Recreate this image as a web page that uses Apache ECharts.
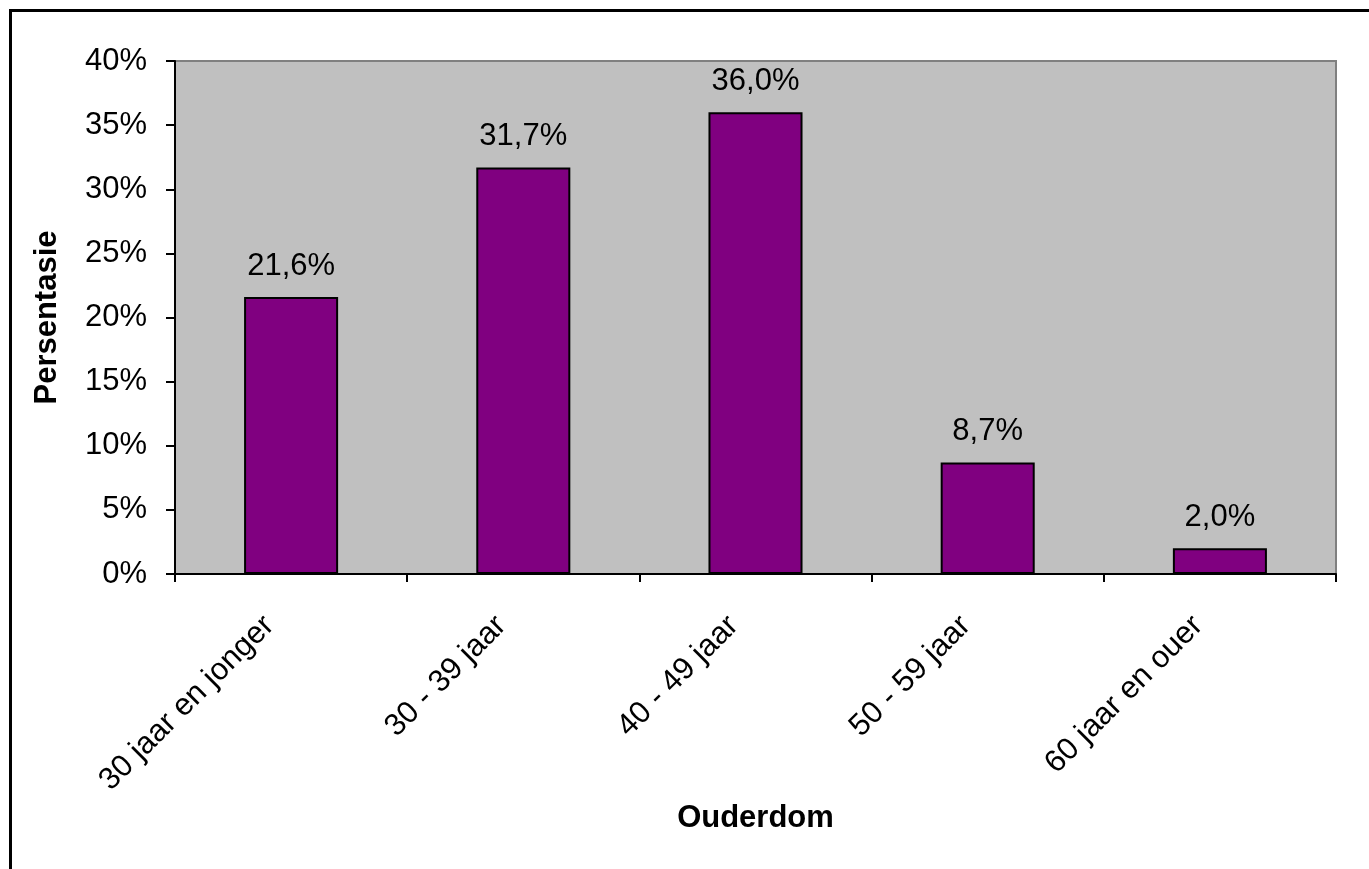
<!DOCTYPE html>
<html>
<head>
<meta charset="utf-8">
<script src="https://cdn.jsdelivr.net/npm/echarts@6/dist/echarts.min.js"></script>
<style>
  html, body { margin: 0; padding: 0; background: #fff; }
  #chart { width: 1369px; height: 869px; }
</style>
</head>
<body>
<div id="chart"></div>
<script>
// Age groups and their share of respondents (percent)
const categories = ['30 jaar en jonger', '30 - 39 jaar', '40 - 49 jaar', '50 - 59 jaar', '60 jaar en ouer'];
const percentages = [21.6, 31.7, 36.0, 8.7, 2.0];
const yTicks = [0, 5, 10, 15, 20, 25, 30, 35, 40];

const font = 'Liberation Sans, Arial, sans-serif';
const fs = 31;
const chart = echarts.init(document.getElementById('chart'), null, { renderer: 'canvas' });

chart.setOption({
  backgroundColor: '#ffffff',
  animation: false,
  graphic: [
    {
      type: 'rect',
      shape: { x: 10.5, y: 10.5, width: 1400, height: 900 },
      style: { fill: 'none', stroke: '#000', lineWidth: 3 },
      silent: true
    }
  ],
  grid: {
    left: 175, top: 61, right: 33, bottom: 295,
    show: true,
    backgroundColor: '#c0c0c0',
    borderColor: '#808080',
    borderWidth: 2
  },
  xAxis: {
    type: 'category',
    data: categories,
    name: 'Ouderdom',
    nameLocation: 'middle',
    nameGap: 221,
    nameTextStyle: { fontFamily: font, fontSize: fs, fontWeight: 'bold', color: '#000' },
    axisLine: { lineStyle: { color: '#000', width: 2 } },
    axisTick: { show: true, length: 8, lineStyle: { color: '#000', width: 2 } },
    axisLabel: {
      interval: 0,
      rotate: 45,
      margin: 25,
      padding: [0, 31, 0, 0],
      fontFamily: font,
      fontSize: fs,
      color: '#000'
    }
  },
  yAxis: {
    type: 'value',
    min: yTicks[0],
    max: yTicks[yTicks.length - 1],
    interval: 5,
    name: 'Persentasie',
    nameLocation: 'middle',
    nameGap: 112,
    nameRotate: 90,
    nameTextStyle: { fontFamily: font, fontSize: fs, fontWeight: 'bold', color: '#000' },
    splitLine: { show: false },
    axisLine: { show: true, lineStyle: { color: '#000', width: 2 } },
    axisTick: { show: true, length: 9, lineStyle: { color: '#000', width: 2 } },
    axisLabel: {
      margin: 28,
      fontFamily: font,
      fontSize: fs,
      color: '#000',
      formatter: v => v + '%'
    }
  },
  series: [{
    type: 'bar',
    data: percentages,
    barWidth: '40.5%',
    itemStyle: { color: '#800080', borderColor: '#000', borderWidth: 2 },
    label: {
      show: true,
      position: 'top',
      distance: 15,
      fontFamily: font,
      fontSize: fs,
      color: '#000',
      formatter: p => p.value.toFixed(1).replace('.', ',') + '%'
    }
  }]
});
</script>
</body>
</html>
